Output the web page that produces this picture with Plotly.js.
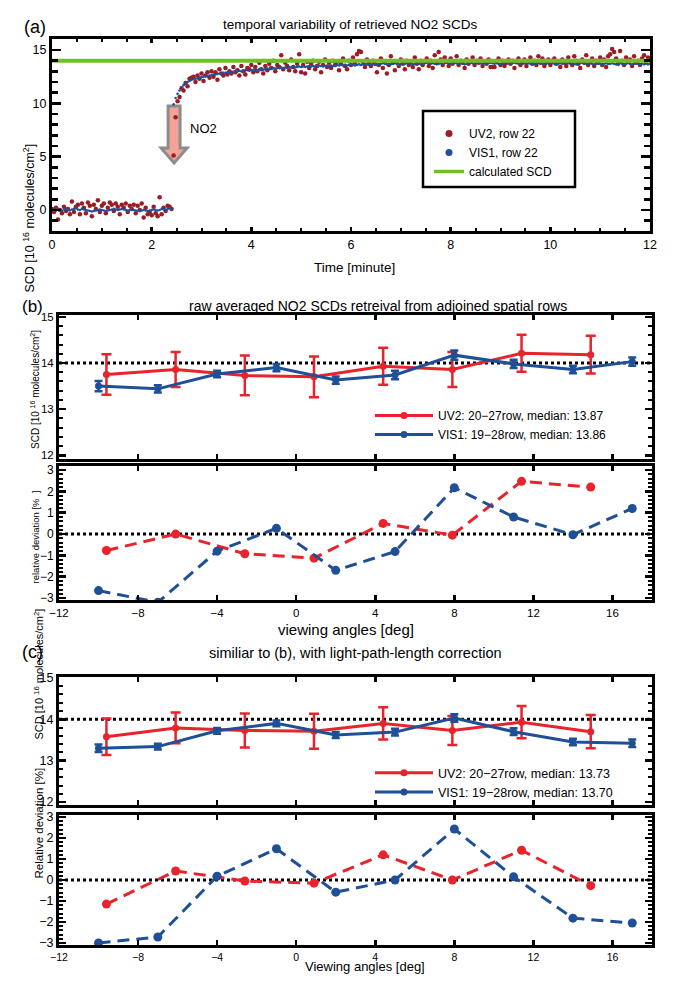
<!DOCTYPE html>
<html>
<head>
<meta charset="utf-8">
<script src="https://cdn.plot.ly/plotly-3.0.1.min.js"></script>
<style>html,body{margin:0;padding:0;background:#fff;}#chart{width:677px;height:983px;}</style>
</head>
<body>
<div id="chart"></div>
<script>
// ---------------- DATA ----------------
// Panel (a): time series sampled every T_STEP minutes starting at T_START
const T_START = 0;
const T_STEP = 0.04;
const UV2_ROW22 = [
 0.1,-0.2,0.2,-0.9,0.0,-0.3,0.3,-0.1,0.1,-0.4,
 0.8,-0.2,0.3,0.5,-0.4,0.6,0.2,-0.3,0.7,0.4,
 -0.6,0.5,0.1,0.9,-0.2,0.4,0.6,-0.3,0.2,0.7,
 0.5,-0.1,0.6,0.3,-0.4,0.5,0.2,0.6,-0.2,0.4,
 0.1,0.5,-0.3,0.4,0.0,0.6,-0.7,0.2,-0.4,-0.2,
 -0.5,0.3,-0.3,-0.6,1.2,-0.4,0.2,-0.1,0.4,0.3,
 0.1,5.1,8.7,10.2,10.6,11.4,11.2,11.9,11.6,12.3,
 12.4,12.5,12.0,12.6,12.3,12.8,12.1,12.6,12.9,12.4,
 13.0,12.5,12.9,12.2,13.2,12.8,12.6,13.3,12.7,13.0,
 12.8,13.4,12.9,13.1,12.6,13.5,13.0,12.7,13.3,13.2,
 13.6,12.9,13.4,13.0,13.8,13.2,12.8,13.5,13.1,13.7,
 13.3,14.0,13.0,13.6,13.4,14.5,13.2,13.8,13.5,13.1,
 14.1,13.4,13.0,13.7,14.6,12.9,13.6,12.8,13.9,13.3,
 13.7,14.0,13.2,13.5,13.9,12.9,13.6,14.1,13.4,13.8,
 13.3,14.0,13.6,13.9,13.1,13.7,14.2,13.5,13.2,14.0,
 13.6,14.3,13.8,14.6,14.9,14.8,13.9,13.4,14.1,13.7,
 13.5,14.0,13.7,12.9,13.6,14.2,13.3,13.9,12.8,13.6,
 14.4,13.8,13.1,13.9,13.5,14.1,13.7,13.2,14.0,13.6,
 13.9,13.4,14.3,13.7,13.2,14.0,13.6,13.9,14.2,13.5,
 14.0,13.3,14.5,13.8,14.8,14.1,13.6,14.3,13.9,13.5,
 14.2,13.7,13.9,14.4,13.6,14.0,13.8,13.3,14.1,13.7,
 13.9,14.3,13.6,14.0,13.8,14.2,13.5,13.9,13.7,14.1,
 13.4,13.4,13.4,13.9,14.2,13.6,14.0,13.5,13.8,14.1,
 13.7,14.0,13.3,13.9,14.2,13.6,13.8,14.1,13.5,13.9,
 14.3,13.7,14.0,13.6,14.4,13.8,14.2,13.5,13.9,14.1,
 13.6,14.0,14.2,13.7,13.9,13.4,14.1,13.8,13.5,14.3,
 13.9,13.6,14.4,14.0,13.7,13.3,14.1,13.8,14.5,13.6,
 13.9,14.2,13.5,14.0,13.8,14.3,13.6,14.1,13.4,14.4,
 14.6,15.1,14.8,14.2,13.7,14.9,14.0,13.6,14.3,13.9,
 14.1,13.5,14.4,13.8,14.0,13.6,14.2,14.5,13.9,14.3,
 14.2
];
const VIS1_ROW22 = [
 0.0,0.05,-0.05,0.1,0.0,-0.1,0.05,0.1,0.0,-0.05,
 0.05,0.1,0.15,0.05,0.0,0.1,0.05,0.0,-0.05,-0.1,
 -0.15,-0.1,-0.05,0.0,0.05,0.0,-0.05,-0.1,-0.05,0.0,
 0.05,0.1,0.05,0.0,0.05,0.1,0.05,0.0,-0.05,0.0,
 0.05,0.0,-0.05,-0.1,-0.1,-0.05,0.0,-0.05,-0.1,-0.05,
 0.0,0.05,0.0,-0.05,0.0,0.1,0.05,0.0,0.1,0.15,
 0.05,9.9,10.5,10.9,11.2,11.5,11.7,11.85,12.0,12.1,
 12.2,12.25,12.3,12.35,12.4,12.45,12.5,12.55,12.55,12.6,
 12.65,12.7,12.7,12.75,12.8,12.8,12.85,12.85,12.9,12.9,
 12.95,12.95,13.0,13.0,13.05,13.0,13.05,13.1,13.1,13.05,
 13.1,13.15,13.15,13.1,13.2,13.2,13.15,13.2,13.25,13.2,
 13.25,13.3,13.25,13.3,13.3,13.35,13.3,13.35,13.3,13.4,
 13.35,13.4,13.35,13.4,13.45,13.4,13.45,13.4,13.45,13.5,
 13.45,13.5,13.45,13.5,13.55,13.5,13.45,13.5,13.55,13.5,
 13.55,13.5,13.55,13.6,13.55,13.6,13.55,13.6,13.55,13.6,
 13.65,13.6,13.55,13.6,13.65,13.6,13.65,13.7,13.65,13.6,
 13.65,13.7,13.65,13.6,13.65,13.7,13.75,13.7,13.65,13.7,
 13.65,13.7,13.75,13.7,13.65,13.7,13.75,13.7,13.75,13.8,
 13.7,13.65,13.7,13.75,13.7,13.65,13.7,13.75,13.8,13.75,
 13.7,13.75,13.7,13.65,13.7,13.75,13.7,13.75,13.8,13.75,
 13.7,13.75,13.8,13.75,13.7,13.75,13.7,13.65,13.7,13.75,
 13.8,13.75,13.7,13.75,13.8,13.75,13.7,13.75,13.7,13.75,
 13.8,13.75,13.7,13.75,13.7,13.65,13.7,13.75,13.8,13.75,
 13.7,13.75,13.8,13.75,13.7,13.75,13.8,13.75,13.7,13.75,
 13.7,13.65,13.7,13.75,13.8,13.75,13.7,13.75,13.7,13.75,
 13.8,13.75,13.7,13.65,13.7,13.75,13.7,13.75,13.8,13.75,
 13.7,13.75,13.7,13.65,13.7,13.75,13.8,13.75,13.7,13.7,
 13.75,13.7,13.65,13.7,13.75,13.7,13.65,13.7,13.75,13.7,
 13.7,13.75,13.7,13.65,13.7,13.75,13.7,13.65,13.7,13.75,
 13.7,13.65,13.7,13.75,13.7,13.65,13.7,13.65,13.7,13.65,
 13.7
];
const CALC_TIME = [0, 12];
const CALC_SCD = [14, 14];

// Panels (b) and (c): viewing angles [deg]
const UV2_ANGLES = [-9.6, -6.1, -2.6, 0.9, 4.4, 7.9, 11.4, 14.9];
const VIS1_ANGLES = [-10, -7, -4, -1, 2, 5, 8, 11, 14, 17];

// (b) raw averaged SCDs
const B_UV2_SCD = [13.75, 13.86, 13.73, 13.70, 13.93, 13.86, 14.21, 14.18];
const B_UV2_ERR = [0.44, 0.38, 0.43, 0.44, 0.40, 0.38, 0.40, 0.41];
const B_VIS1_SCD = [13.50, 13.44, 13.76, 13.90, 13.63, 13.74, 14.17, 13.98, 13.86, 14.03];
const B_VIS1_ERR = [0.11, 0.08, 0.07, 0.08, 0.08, 0.09, 0.10, 0.09, 0.08, 0.09];
const B_UV2_DEV = [-0.77, 0.0, -0.92, -1.13, 0.5, -0.05, 2.47, 2.2];
const B_VIS1_DEV = [-2.65, -3.2, -0.8, 0.27, -1.7, -0.82, 2.17, 0.8, -0.03, 1.2];

// (c) with light-path-length correction
const C_UV2_SCD = [13.58, 13.79, 13.73, 13.71, 13.90, 13.73, 13.93, 13.70];
const C_UV2_ERR = [0.44, 0.37, 0.41, 0.42, 0.39, 0.35, 0.39, 0.40];
const C_VIS1_SCD = [13.30, 13.34, 13.72, 13.90, 13.62, 13.69, 14.03, 13.70, 13.45, 13.42];
const C_VIS1_ERR = [0.09, 0.07, 0.07, 0.07, 0.07, 0.08, 0.09, 0.08, 0.08, 0.09];
const C_UV2_DEV = [-1.15, 0.43, -0.05, -0.15, 1.2, 0.0, 1.42, -0.27];
const C_VIS1_DEV = [-3.0, -2.72, 0.18, 1.49, -0.58, 0.0, 2.43, 0.15, -1.82, -2.05];

const REF_SCD = 14;
const REF_DEV = 0;

const LEG_B = ['UV2: 20\u221227row, median: 13.87', 'VIS1: 19\u221228row, median: 13.86'];
const LEG_C = ['UV2: 20\u221227row, median: 13.73', 'VIS1: 19\u221228row, median: 13.70'];
const LEG_A = ['UV2, row 22', 'VIS1, row 22', 'calculated SCD'];

// ---------------- STYLE ----------------
const SANS = 'Liberation Sans, Arial, Helvetica, sans-serif';
const NARROW = 'Liberation Sans Narrow, Arial Narrow, Liberation Sans, Arial, sans-serif';
const RED_A = '#9b1c22', BLUE_A = '#1f4f9d', GREEN = '#6fbf2a';
const RED = '#e8232b', BLUE = '#1f4f96';
const W = 677, H = 983;
const px = v => v / W;
const py = v => 1 - v / H;

const XA = [px(52), px(650)];
const XB = [px(59), px(652)];

const traces = [];
// (a)
traces.push({type:'scatter', mode:'markers', x0:T_START, dx:T_STEP, y:UV2_ROW22,
  marker:{size:4.5, color:RED_A}, xaxis:'x', yaxis:'y', showlegend:false, hoverinfo:'skip'});
traces.push({type:'scatter', mode:'markers', x0:T_START, dx:T_STEP, y:VIS1_ROW22,
  marker:{size:2.6, color:BLUE_A}, xaxis:'x', yaxis:'y', showlegend:false, hoverinfo:'skip'});
traces.push({type:'scatter', mode:'lines', x:CALC_TIME, y:CALC_SCD,
  line:{color:GREEN, width:4}, xaxis:'x', yaxis:'y', showlegend:false, hoverinfo:'skip'});
// legend proxies for (a)
traces.push({type:'scatter', mode:'markers', x:[null], y:[null], name:LEG_A[0], marker:{size:7, color:RED_A}, xaxis:'x', yaxis:'y', legend:'legend'});
traces.push({type:'scatter', mode:'markers', x:[null], y:[null], name:LEG_A[1], marker:{size:7, color:BLUE_A}, xaxis:'x', yaxis:'y', legend:'legend'});
traces.push({type:'scatter', mode:'lines', x:[null], y:[null], name:LEG_A[2], line:{color:GREEN, width:3.5}, xaxis:'x', yaxis:'y', legend:'legend'});

function upper(xs, ys, err, color, name, xa, ya, leg, capw) {
  return {type:'scatter', mode:'lines+markers', x:xs, y:ys, name:name,
    line:{color:color, width:3}, marker:{size:7, color:color},
    error_y:{type:'data', array:err, visible:true, color:color, thickness:2.5, width:capw},
    xaxis:xa, yaxis:ya, legend:leg, hoverinfo:'skip'};
}
function lower(xs, ys, color, xa, ya) {
  return {type:'scatter', mode:'lines+markers', x:xs, y:ys, showlegend:false,
    line:{color:color, width:3, dash:'12px,7px'}, marker:{size:9, color:color},
    xaxis:xa, yaxis:ya, cliponaxis:true, hoverinfo:'skip'};
}
traces.push(upper(UV2_ANGLES, B_UV2_SCD, B_UV2_ERR, RED, LEG_B[0], 'x2', 'y2', 'legend2', 5));
traces.push(upper(VIS1_ANGLES, B_VIS1_SCD, B_VIS1_ERR, BLUE, LEG_B[1], 'x2', 'y2', 'legend2', 4));
traces.push(lower(UV2_ANGLES, B_UV2_DEV, RED, 'x3', 'y3'));
traces.push(lower(VIS1_ANGLES, B_VIS1_DEV, BLUE, 'x3', 'y3'));
traces.push(upper(UV2_ANGLES, C_UV2_SCD, C_UV2_ERR, RED, LEG_C[0], 'x4', 'y4', 'legend3', 5));
traces.push(upper(VIS1_ANGLES, C_VIS1_SCD, C_VIS1_ERR, BLUE, LEG_C[1], 'x4', 'y4', 'legend3', 4));
traces.push(lower(UV2_ANGLES, C_UV2_DEV, RED, 'x5', 'y5'));
traces.push(lower(VIS1_ANGLES, C_VIS1_DEV, BLUE, 'x5', 'y5'));

const axBase = {showline:true, linecolor:'black', linewidth:3, mirror:'allticks', ticks:'inside',
  tickcolor:'black', tickwidth:2.5, showgrid:false, zeroline:false, fixedrange:true};
const tf = (fam, size) => ({family:fam, size:size, color:'black'});

const angX = (dom, anchor, labels, fam, fs) => Object.assign({}, axBase, {domain:dom, anchor:anchor,
  range:[-12, 18], tick0:-12, dtick:4, ticklen:5, showticklabels:labels, tickfont:tf(fam, fs)});

const layout = {
  width:W, height:H, margin:{l:0, r:0, t:0, b:0}, paper_bgcolor:'white', plot_bgcolor:'white',
  showlegend:true,
  xaxis: Object.assign({}, axBase, {domain:XA, anchor:'y', range:[0, 12], tick0:0, dtick:2, ticklen:4,
    minor:{dtick:0.5, ticklen:3, tickwidth:2, tickcolor:'black', ticks:'inside'}, tickfont:tf(NARROW, 12.5)}),
  yaxis: Object.assign({}, axBase, {domain:[py(231.3), py(39.3)], anchor:'x', range:[-2, 16], tick0:0, dtick:5, ticklen:9,
    minor:{dtick:1, ticklen:6, tickwidth:2.5, tickcolor:'black', ticks:'inside'}, tickfont:tf(NARROW, 12.5)}),
  xaxis2: angX(XB, 'y2', false, SANS, 12),
  yaxis2: Object.assign({}, axBase, {domain:[py(459), py(315)], anchor:'x2', range:[11.92, 15.04], tick0:12, dtick:1, ticklen:7,
    minor:{dtick:0.2, ticklen:4, tickwidth:2, tickcolor:'black', ticks:'inside'}, tickfont:tf(SANS, 11.5)}),
  xaxis3: angX(XB, 'y3', true, SANS, 11.5),
  yaxis3: Object.assign({}, axBase, {domain:[py(600), py(466)], anchor:'x3', range:[-3.09, 3.19], tick0:0, dtick:1, ticklen:7,
    minor:{dtick:0.2, ticklen:4, tickwidth:2, tickcolor:'black', ticks:'inside'}, tickfont:tf(SANS, 12)}),
  xaxis4: angX(XB, 'y4', false, NARROW, 12),
  yaxis4: Object.assign({}, axBase, {domain:[py(805), py(677)], anchor:'x4', range:[11.93, 15.02], tick0:12, dtick:1, ticklen:7,
    minor:{dtick:0.2, ticklen:4, tickwidth:2, tickcolor:'black', ticks:'inside'}, tickfont:tf(NARROW, 12.5)}),
  xaxis5: angX(XB, 'y5', true, NARROW, 10.5),
  yaxis5: Object.assign({}, axBase, {domain:[py(945), py(815)], anchor:'x5', range:[-3.1, 3.1], tick0:0, dtick:1, ticklen:7,
    minor:{dtick:0.2, ticklen:4, tickwidth:2, tickcolor:'black', ticks:'inside'}, tickfont:tf(NARROW, 12.5)}),
  legend: {x:px(429), y:py(119), xanchor:'left', yanchor:'top', bgcolor:'rgba(0,0,0,0)', borderwidth:0,
    font:tf(NARROW, 12), tracegroupgap:0},
  legend2: {x:px(370), y:py(401), xanchor:'left', yanchor:'top', bgcolor:'rgba(0,0,0,0)', borderwidth:0,
    font:tf(SANS, 12), itemwidth:58, tracegroupgap:0},
  legend3: {x:px(370), y:py(758), xanchor:'left', yanchor:'top', bgcolor:'rgba(0,0,0,0)', borderwidth:0,
    font:tf(NARROW, 12.5), itemwidth:58, tracegroupgap:0},
  shapes: [
    // legend box for (a)
    {type:'rect', xref:'paper', yref:'paper', x0:px(423), x1:px(575), y0:py(187), y1:py(111),
      line:{color:'black', width:2.5}, fillcolor:'white', layer:'above'},
    // NO2 arrow in (a)
    {type:'path', xref:'x', yref:'y', layer:'below',
      path:'M2.33,9.75 L2.57,9.75 L2.57,5.8 L2.71,5.8 L2.45,4.4 L2.19,5.8 L2.33,5.8 Z',
      fillcolor:'#f3a398', line:{color:'#8c8c8c', width:3}},
    // reference dotted lines
    {type:'line', xref:'x2 domain', x0:0, x1:1, yref:'y2', y0:REF_SCD, y1:REF_SCD, layer:'below', line:{color:'black', width:3, dash:'dot'}},
    {type:'line', xref:'x3 domain', x0:0, x1:1, yref:'y3', y0:REF_DEV, y1:REF_DEV, layer:'below', line:{color:'black', width:3, dash:'dot'}},
    {type:'line', xref:'x4 domain', x0:0, x1:1, yref:'y4', y0:REF_SCD, y1:REF_SCD, layer:'below', line:{color:'black', width:3, dash:'dot'}},
    {type:'line', xref:'x5 domain', x0:0, x1:1, yref:'y5', y0:REF_DEV, y1:REF_DEV, layer:'below', line:{color:'black', width:3, dash:'dot'}}
  ],
  annotations: [
    {text:'(a)', xref:'paper', yref:'paper', x:px(22), y:py(15), showarrow:false, font:tf(SANS, 18)},
    {text:'temporal variability of retrieved NO2 SCDs', xref:'paper', yref:'paper', x:px(350), y:py(15), showarrow:false, font:tf(SANS, 13.5)},
    {text:'(b)', xref:'paper', yref:'paper', x:px(20), y:py(295), showarrow:false, font:tf(SANS, 17)},
    {text:'raw averaged NO2 SCDs retreival from adjoined spatial rows', xref:'paper', yref:'paper', x:px(378), y:py(296), showarrow:false, font:tf(SANS, 14)},
    {text:'(c)', xref:'paper', yref:'paper', x:px(20), y:py(652), showarrow:false, font:tf(SANS, 18)},
    {text:'similiar to (b), with light-path-length correction', xref:'paper', yref:'paper', x:px(355), y:py(653), showarrow:false, font:tf(NARROW, 14.5)},
    {text:'Time [minute]', xref:'paper', yref:'paper', x:px(354), y:py(258), showarrow:false, font:tf(NARROW, 13.5)},
    {text:'viewing angles [deg]', xref:'paper', yref:'paper', x:px(346), y:py(629), showarrow:false, font:tf(SANS, 15)},
    {text:'Viewing angles [deg]', xref:'paper', yref:'paper', x:px(365), y:py(975.5), showarrow:false, font:tf(NARROW, 13)},
    {text:'SCD [10 <sup>16</sup> molecules/cm<sup>2</sup>]', xref:'paper', yref:'paper', x:px(19), y:py(142), textangle:-90, showarrow:false, font:tf(SANS, 12.5)},
    {text:'SCD [10 <sup>16</sup> molecules/cm<sup>2</sup>]', xref:'paper', yref:'paper', x:px(27), y:py(390), textangle:-90, showarrow:false, font:tf(NARROW, 10)},
    {text:'relative deviation [%  ]', xref:'paper', yref:'paper', x:px(27), y:py(537), textangle:-90, showarrow:false, font:tf(NARROW, 9.5)},
    {text:'SCD [10 <sup>16</sup> molecules/cm<sup>2</sup>]', xref:'paper', yref:'paper', x:px(29), y:py(742), textangle:-90, showarrow:false, font:tf(SANS, 11)},
    {text:'Relative deviation [%]', xref:'paper', yref:'paper', x:px(30), y:py(881), textangle:-90, showarrow:false, font:tf(SANS, 11.5)},
    {text:'NO2', xref:'x', yref:'y', x:2.72, y:7.6, xanchor:'left', showarrow:false, font:tf(NARROW, 13)}
  ]
};

Plotly.newPlot('chart', traces, layout, {displayModeBar:false, staticPlot:true});
</script>
</body>
</html>
